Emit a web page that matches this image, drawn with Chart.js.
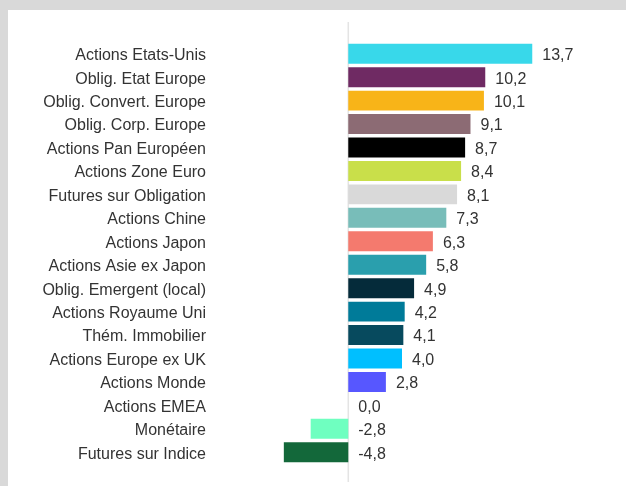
<!DOCTYPE html>
<html>
<head>
<meta charset="utf-8">
<script src="https://cdn.jsdelivr.net/npm/chart.js@4"></script>
<style>
  html, body { margin: 0; padding: 0; background: #d9d9d9; width: 626px; height: 486px; overflow: hidden; }
  #panel { position: absolute; left: 8px; top: 10px; width: 618px; height: 476px; background: #ffffff; }
  canvas { display: block; }
</style>
</head>
<body>
<div id="panel"><canvas id="c" width="618" height="476"></canvas></div>
<script>
const categories = [
  "Actions Etats-Unis", "Oblig. Etat Europe", "Oblig. Convert. Europe", "Oblig. Corp. Europe",
  "Actions Pan Européen", "Actions Zone Euro", "Futures sur Obligation", "Actions Chine",
  "Actions Japon", "Actions Asie ex Japon", "Oblig. Emergent (local)", "Actions Royaume Uni",
  "Thém. Immobilier", "Actions Europe ex UK", "Actions Monde", "Actions EMEA",
  "Monétaire", "Futures sur Indice"
];
const performance = [13.7, 10.2, 10.1, 9.1, 8.7, 8.4, 8.1, 7.3, 6.3, 5.8, 4.9, 4.2, 4.1, 4.0, 2.8, 0.0, -2.8, -4.8];
const barColors = [
  "#38d8ea", "#6f2a63", "#f8b418", "#8c6b74", "#000000", "#c9df4a", "#d9d9d9", "#78bdb9",
  "#f47a6e", "#2a9fad", "#052b3a", "#007b99", "#074a5e", "#00bfff", "#5757ff", "#888888",
  "#6fffc0", "#13683a"
];

const fmt = v => v.toFixed(1).replace('.', ',');

const zeroLine = {
  id: 'zeroLine',
  beforeDatasetsDraw(chart) {
    const ctx = chart.ctx, x = chart.scales.x.getPixelForValue(0), a = chart.chartArea;
    ctx.save();
    ctx.strokeStyle = '#e4e4e4';
    ctx.lineWidth = 1.5;
    ctx.beginPath();
    ctx.moveTo(x, a.top - 20);
    ctx.lineTo(x, a.bottom + 18);
    ctx.stroke();
    ctx.restore();
  }
};

const valueLabels = {
  id: 'valueLabels',
  afterDatasetsDraw(chart) {
    const ctx = chart.ctx, zero = chart.scales.x.getPixelForValue(0);
    const meta = chart.getDatasetMeta(0);
    ctx.save();
    ctx.font = '16px "Liberation Sans", Arial, sans-serif';
    ctx.fillStyle = '#333333';
    ctx.textAlign = 'left';
    ctx.textBaseline = 'middle';
    meta.data.forEach((bar, i) => {
      const v = chart.data.datasets[0].data[i];
      ctx.fillText(fmt(v), Math.max(bar.x, zero) + 10, bar.y + 2);
    });
    ctx.restore();
  }
};

new Chart(document.getElementById('c'), {
  type: 'bar',
  data: {
    labels: categories,
    datasets: [{
      data: performance,
      backgroundColor: barColors,
      borderWidth: 0,
      barPercentage: 0.85,
      categoryPercentage: 1.0
    }]
  },
  options: {
    indexAxis: 'y',
    responsive: false,
    animation: false,
    devicePixelRatio: 1,
    layout: { padding: { left: 0, right: 36, top: 32, bottom: 22 } },
    plugins: { legend: { display: false }, tooltip: { enabled: false } },
    scales: {
      x: { display: false, min: -10, max: 18 },
      y: {
        grid: { display: false, drawTicks: false },
        border: { display: false },
        ticks: {
          padding: 8,
          labelOffset: 2,
          color: '#333333',
          font: { family: '"Liberation Sans", Arial, sans-serif', size: 16 }
        },
        afterFit(s) { s.width = 206; }
      }
    }
  },
  plugins: [zeroLine, valueLabels]
});
</script>
</body>
</html>
